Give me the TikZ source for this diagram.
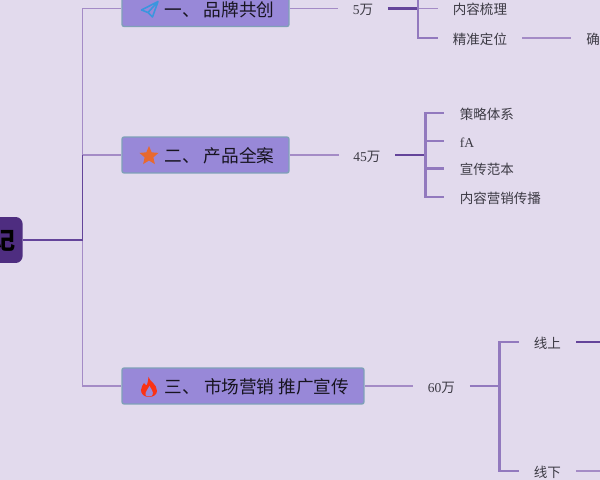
\documentclass[tikz,border=0pt]{standalone}
\usepackage{fontspec}
\setmainfont{Liberation Serif}
\newfontfamily\cjk{Noto Sans CJK SC}
\usetikzlibrary{shapes.geometric}
\definecolor{bgpurple}{HTML}{E2DAED}
\definecolor{boxpurple}{HTML}{9888D8}
\definecolor{boxedge}{HTML}{7FA0B8}
\definecolor{rootpurple}{HTML}{4E2D80}
\definecolor{lightline}{HTML}{A48BC6}
\definecolor{midline}{HTML}{9279BE}
\definecolor{darkline}{HTML}{64449A}
\definecolor{leafgray}{HTML}{3C3A44}
\definecolor{planeblue}{HTML}{3A96DE}
\definecolor{starorange}{HTML}{E8692F}
\definecolor{flamered}{HTML}{FA3214}
\tikzset{
	topicbox/.style={draw=boxedge, line width=0.8pt, fill=boxpurple, rounded corners=1.2pt, minimum height=0.72cm, inner sep=0pt, text height=10.5pt, text depth=1.6pt, text=black!85!boxpurple, font=\cjk\fontsize{10.05}{12}\selectfont},
	moneytext/.style={inner xsep=0.29cm, inner ysep=0pt, text height=8.8pt, text depth=1.5pt, text=leafgray, font=\fontsize{7.7}{9}\selectfont},
	leaftext/.style={inner xsep=0.3cm, inner ysep=0pt, text height=8.8pt, text depth=1.5pt, text=leafgray, font=\cjk\fontsize{7.7}{9}\selectfont},
	thinline/.style={draw=lightline, line width=1.1pt},
	midlink/.style={draw=midline, line width=1.15pt},
	darklink/.style={draw=darkline, line width=1.15pt},
	trunkline/.style={draw=darkline, line width=1.1pt}
}
\begin{document}
\begin{tikzpicture}[x=0.02cm, y=-0.02cm]
	\useasboundingbox[fill=bgpurple] (0,0) rectangle (600,480);

	% Root
	\node[fill=rootpurple, rounded corners=4pt, anchor=east, minimum height=0.92cm, minimum width=1.6cm, inner sep=0pt, text width=1.3cm, align=right, font=\cjk\bfseries\fontsize{13.7}{15}\selectfont, text=black] (root) at (23,240) {记};
	\coordinate (trunk) at (82.5,240);

	% Topic boxes
	\node[topicbox, minimum width=3.34cm] (pinpai) at (205.5,8.5) {\hspace{0.56cm}一、 品牌共创};
	\node[topicbox, minimum width=3.34cm] (chanpin) at (205.5,155) {\hspace{0.56cm}二、 产品全案};
	\node[topicbox, minimum width=4.84cm] (shichang) at (243,386) {\hspace{0.56cm}三、 市场营销 推广宣传};

	% Icons
	\draw[draw=planeblue, line width=0.9pt, line join=round] (158,1.5) -- (141.5,10) -- (148,12.5) -- (152.5,17) -- cycle (158,1.5) -- (148,12.5);
	\node[star, star points=5, star point ratio=2.2, fill=starorange, inner sep=0pt, minimum size=0.4cm] (xing) at (149,156) {};
	\fill[flamered] (148.5,377) .. controls (150,382) and (157,384) .. (157,391) .. controls (157,395) and (153,397) .. (149,397) .. controls (144,397) and (141,394) .. (141,390) .. controls (141,387) and (143,385) .. (144,383) .. controls (145,385) and (146,385) .. (147,385) .. controls (148,382) and (148,380) .. (148.5,377) -- cycle;
	\fill[boxpurple] (149.5,386) .. controls (151,389) and (154,392) .. (152.5,395) .. controls (152,397) and (146,397) .. (145.5,395) .. controls (145,392) and (148,389) .. (149.5,386) -- cycle;

	% Money nodes
	\node[moneytext] (wu) at (363,8.5) {5{\cjk 万}};
	\node[moneytext] (sishiwu) at (367,155) {45{\cjk 万}};
	\node[moneytext] (liushi) at (441.5,386) {60{\cjk 万}};

	% Leaf nodes
	\node[leaftext] (shuli) at (480,8.5) {内容梳理};
	\node[leaftext] (dingwei) at (480,38) {精准定位};
	\node[leaftext, anchor=west] (queren) at (571,38) {确};
	\node[leaftext, anchor=west] (celue) at (444.5,113) {策略体系};
	\node[moneytext, anchor=west, inner xsep=0.3cm] (fa) at (444.5,141) {fA};
	\node[leaftext, anchor=west] (fanben) at (444.5,168.5) {宣传范本};
	\node[leaftext, anchor=west] (chuanbo) at (444.5,197) {内容营销传播};
	\node[leaftext] (xianshang) at (547.5,342) {线上};
	\node[leaftext] (xianxia) at (547.5,471) {线下};
	\coordinate (endup) at (610,342);
	\coordinate (enddown) at (610,471);

	% Forks
	\coordinate (forkwu) at (418,8.5);
	\coordinate (forksi) at (425.5,155);
	\coordinate (forkliu) at (499.5,386);

	% Edges from root
	\draw[thinline] (trunk) |- (pinpai.west);
	\draw[thinline] (trunk) |- (shichang.west);
	\draw[thinline] (82.5,155) -- (chanpin.west);
	\draw[trunkline] (root.east) -- (trunk) -- (82.5,155);

	% Edges for first branch
	\draw[thinline] (pinpai.east) -- (wu.west);
	\draw[darklink] (wu.east) -- (forkwu);
	\draw[thinline] (forkwu) -- (shuli.west);
	\draw[midlink] (418,0) -- (forkwu) |- (dingwei.west);
	\draw[thinline] (dingwei.east) -- (queren.west);

	% Edges for second branch
	\draw[thinline] (chanpin.east) -- (sishiwu.west);
	\draw[darklink] (sishiwu.east) -- (forksi);
	\draw[midlink] (forksi) |- (celue.west);
	\draw[midlink] (forksi) |- (fa.west);
	\draw[midlink] (forksi) |- (fanben.west);
	\draw[midlink] (forksi) |- (chuanbo.west);

	% Edges for third branch
	\draw[thinline] (shichang.east) -- (liushi.west);
	\draw[midlink] (liushi.east) -- (forkliu);
	\draw[midlink] (forkliu) |- (xianshang.west);
	\draw[midlink] (forkliu) |- (xianxia.west);
	\draw[darklink] (xianshang.east) -- (endup);
	\draw[thinline] (xianxia.east) -- (enddown);
\end{tikzpicture}
\end{document}
